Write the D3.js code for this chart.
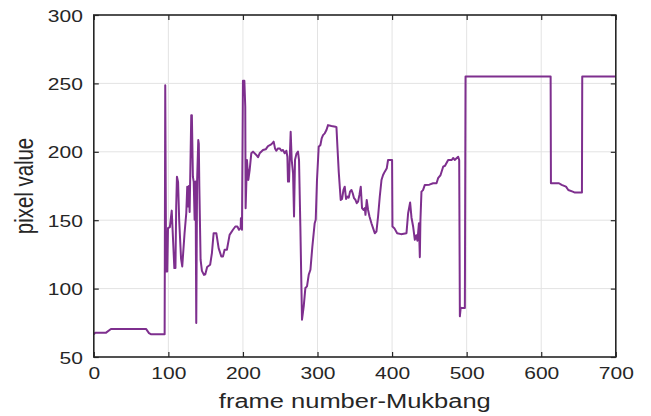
<!DOCTYPE html>
<html>
<head>
<meta charset="utf-8">
<script src="https://cdn.jsdelivr.net/npm/d3@7"></script>
<style>
  html, body { margin: 0; padding: 0; background: #fff; }
  svg { display: block; }
  text { font-family: "Liberation Sans", Arial, Helvetica, sans-serif; fill: #262626; }
</style>
</head>
<body>
<svg id="chart" width="651" height="416"></svg>
<script>
// Frame index and mean pixel value per frame (Mukbang clip)
const frames = [
  0, 2, 16.5, 23, 70, 74, 77, 95, 95.8, 97, 98.5, 99.5, 102, 104.5, 105.5, 108, 109.5, 110.5, 111.5, 113,
  114.5, 117, 118.6, 121.7, 124, 125.3, 126.5, 127.5, 128.5, 130.7, 131.5, 132.9, 134, 135.2, 136.5, 137.4,
  138.5, 140.1, 140.8, 141.5, 143.2, 145, 147.7, 149.5, 152, 156, 158.4, 160.7, 164.3, 167.4, 171, 173.2,
  175.4, 178.5, 182.1, 186.6, 189.8, 192.5, 194.7, 196.9, 197.3, 198.7, 200, 201.9, 203.1, 203.6, 205.4,
  207.2, 209, 211.2, 213.5, 217.9, 220.2, 222.4, 226.9, 230.5, 233.6, 236.8, 239.5, 241.2, 243, 244.8, 247,
  249.3, 251.5, 253.7, 256, 258.2, 259.6, 260.4, 261.8, 262.7, 264, 265.4, 267.2, 268.5, 269.8, 271.7,
  273.8, 275.2, 277, 278.4, 279.2, 281.5, 283.7, 285.9, 288.2, 290.5, 293.1, 296.2, 297.6, 299.3, 301.6,
  303.9, 305.6, 307.4, 309.7, 312, 314.1, 318.6, 324, 325.4, 326.7, 328.5, 331.1, 332.9, 334.8, 336.5,
  338.3, 340.1, 341.9, 343.6, 345.5, 347.2, 349, 350.9, 352.6, 354.4, 356.2, 358, 359.7, 361.6, 363.4,
  364.3, 366, 367.8, 369.7, 372.3, 374.5, 376.8, 379, 381.2, 383.5, 385.8, 387.9, 390.2, 392.9, 394.6,
  400, 400.5, 403, 406.8, 412, 419.3, 421.5, 424.2, 426, 428.2, 430.5, 432.5, 434, 436, 437.2, 438, 439.4,
  441.5, 443.9, 450, 455, 459.6, 461.7, 465, 468.5, 471, 475.2, 480, 482, 484, 486.4, 488.6, 490, 490.9,
  492, 493.1, 497.6, 498.5, 612.6, 613, 623.8, 627.4, 633.2, 636.3, 642.2, 645.2, 654.6, 655, 700
];
const pixelValues = [
  66.5, 67.8, 67.8, 70.5, 70.5, 67.5, 66.6, 66.6, 248.7, 112.5, 112.5, 144.2, 145, 157, 145, 115, 115, 160, 181.8, 178,
  150, 122, 116.2, 140.5, 155.1, 174.5, 160, 175, 156, 226.8, 226.8, 181.8, 178, 150.3, 178.2, 74.9,
  178, 208.6, 206, 175, 121.1, 113, 110, 110.5, 115.8, 117.4, 126, 140.5, 140.5, 129.6, 123.5, 123.5,
  128.4, 128.4, 139.3, 143, 145.4, 145.4, 143, 144.2, 151.5, 143, 251.9, 251.9, 232.9, 158.8, 194,
  179.4, 186.7, 198.9, 200.1, 197.7, 196, 198.9, 201.3, 201.8, 204.2, 205, 206.2, 207.4, 202.5, 200.8, 202.5,
  202.5, 200.8, 201.3, 198.9, 200.8, 196.4, 178.2, 178.2, 194, 214.7, 194, 184.3, 152.7, 194, 198.5,
  200.1, 194, 145.4, 101.6, 77.3, 87, 100.4, 101.6, 110.1, 113.8, 130.8, 147.8, 150.3, 179.4, 203.7,
  205, 209.8, 212.2, 213.5, 215.9, 219.5, 218.8, 218.3, 218, 203.7, 185, 164.8, 165.5, 172.1, 174.5,
  165.5, 167.3, 166.5, 170.9, 172.1, 169.7, 166.1, 164.8, 162.4, 163.6, 168.5, 174.5, 158.8, 157.5, 158.8,
  153.9, 164.8, 157.5, 152.7, 147.8, 144.2, 140.5, 141.7, 152.7, 167.3, 179.4, 183, 185.5, 188, 194,
  194, 145.4, 144.2, 140.5, 139.8, 140.5, 155.1, 162.9, 152, 145.4, 135.7, 139, 135, 147.8, 123, 150, 170.9,
  172, 175.8, 176, 177, 177, 180.7, 183, 189.1, 189.8, 194, 194, 195.5, 194, 195.3, 196.4, 194, 79.7,
  86, 85.8, 85.8, 255, 255, 177, 177, 175.8, 174.5, 172.1, 170.9, 170.2, 170.2, 255, 255
];
const xTicks = [0, 100, 200, 300, 400, 500, 600, 700];
const yTicks = [50, 100, 150, 200, 250, 300];
const xLabel = "frame number-Mukbang";
const yLabel = "pixel value";

const series = frames.map((f, i) => ({ f, v: pixelValues[i] }));

const plotLeft = 93.8, plotRight = 615.8, plotTop = 15, plotBottom = 357;
const textSquash = 0.8;           // figure text is drawn slightly flattened
const axisColor = "#262626";
const lineColor = "#7E2F8E";

const svg = d3.select("#chart");
const x = d3.scaleLinear().domain([0, 700]).range([plotLeft, plotRight]);
const y = d3.scaleLinear().domain([50, 300]).range([plotBottom, plotTop]);

// grid
const grid = svg.append("g").attr("stroke", "#e3e3e3").attr("stroke-width", 1);
grid.selectAll(".gx").data(xTicks.slice(1, -1)).join("line")
  .attr("x1", d => x(d)).attr("x2", d => x(d)).attr("y1", plotTop).attr("y2", plotBottom);
grid.selectAll(".gy").data(yTicks.slice(1, -1)).join("line")
  .attr("x1", plotLeft).attr("x2", plotRight).attr("y1", d => y(d)).attr("y2", d => y(d));

// data line
svg.append("path")
  .datum(series)
  .attr("fill", "none")
  .attr("stroke", lineColor)
  .attr("stroke-width", 2)
  .attr("stroke-linejoin", "round")
  .attr("d", d3.line().x(d => x(d.f)).y(d => y(d.v)));

// axes with inward ticks on all four sides
function styleAxis(g) {
  g.select(".domain").remove();
  g.selectAll(".tick line").attr("stroke", axisColor).attr("stroke-width", 1.2);
}
const gx = svg.append("g").attr("transform", `translate(0,${plotBottom})`)
  .call(d3.axisBottom(x).tickValues(xTicks).tickSizeInner(-5).tickSizeOuter(0))
  .call(styleAxis);
gx.selectAll(".tick text")
  .attr("y", 27.5).attr("dy", 0)
  .attr("transform", `scale(1,${textSquash})`)
  .style("font-size", "21px").attr("fill", axisColor);

const gy = svg.append("g").attr("transform", `translate(${plotLeft},0)`)
  .call(d3.axisLeft(y).tickValues(yTicks).tickSizeInner(-5).tickSizeOuter(0))
  .call(styleAxis);
gy.selectAll(".tick text")
  .attr("x", -11).attr("dy", "0.36em")
  .attr("transform", `scale(1,${textSquash})`)
  .style("font-size", "21px").attr("fill", axisColor);

svg.append("g").attr("transform", `translate(${plotRight},0)`)
  .call(d3.axisRight(y).tickValues(yTicks).tickSizeInner(-5).tickSizeOuter(0).tickFormat(""))
  .call(styleAxis);
svg.append("g").attr("transform", `translate(0,${plotTop})`)
  .call(d3.axisTop(x).tickValues(xTicks).tickSizeInner(-5).tickSizeOuter(0).tickFormat(""))
  .call(styleAxis);

// box
svg.append("rect")
  .attr("x", plotLeft).attr("y", plotTop)
  .attr("width", plotRight - plotLeft).attr("height", plotBottom - plotTop)
  .attr("fill", "none").attr("stroke", axisColor).attr("stroke-width", 1.6);

// axis titles
svg.append("text")
  .attr("transform", `translate(${(plotLeft + plotRight) / 2},408) scale(1,${textSquash})`)
  .attr("text-anchor", "middle")
  .style("font-size", "25.5px")
  .text(xLabel);
svg.append("text")
  .attr("transform", `translate(33,${(plotTop + plotBottom) / 2}) scale(1,${textSquash}) rotate(-90)`)
  .attr("text-anchor", "middle")
  .style("font-size", "25.5px")
  .text(yLabel);
</script>
</body>
</html>
